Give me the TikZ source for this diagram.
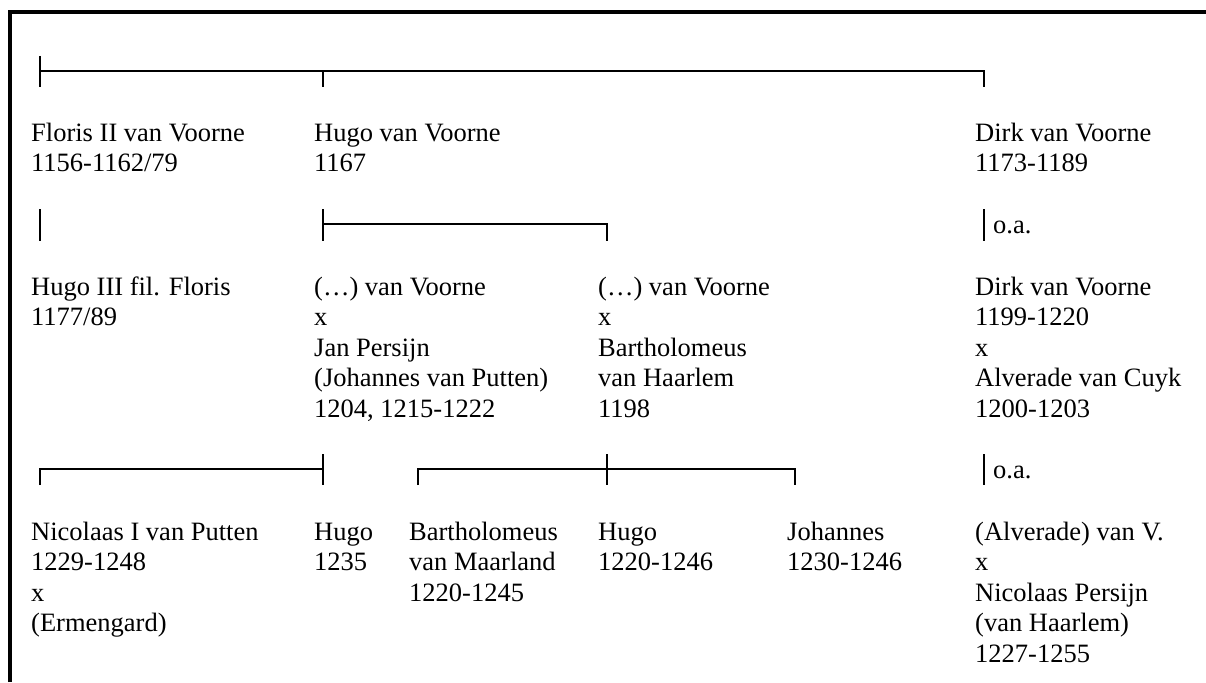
\documentclass[tikz,border=0pt]{standalone}
\usepackage{fontspec}
\setmainfont{Liberation Serif}
\begin{document}
\begin{tikzpicture}[x=1pt,y=-1pt,
  lbl/.style={anchor=north west,inner sep=0pt,align=left,font=\fontsize{26.5}{30.5}\selectfont},
  ln/.style={line width=2.2pt},
  frame/.style={line width=3.5pt}]
\useasboundingbox (0,0) rectangle (1206,682);
% frame
\coordinate (fa) at (10,682);
\coordinate (fb) at (10,12);
\coordinate (fc) at (1206,12);
\draw[frame] (fa) -- (fb) -- (fc);

% ---- generation 1 bracket (line y=71)
\coordinate (a1) at (40,56);  \coordinate (a2) at (40,87);
\coordinate (a0) at (40,71);  \coordinate (a3) at (984,71);
\coordinate (a4) at (323,71); \coordinate (a5) at (323,87);
\coordinate (a6) at (984,87);
\draw[ln] (a1) -- (a2);
\draw[ln] (a0) -- (a3) -- (a6);
\draw[ln] (a4) -- (a5);

% text row 1 (first baseline 141)
\node[lbl] (floris) at (31,119.65) {\strut Floris II van Voorne\\1156-1162/79};
\node[lbl] (hugo)   at (314,119.65) {\strut Hugo van Voorne\\1167};
\node[lbl] (dirk)   at (975,119.65) {\strut Dirk van Voorne\\1173-1189};

% ---- generation 2 connectors (line y=224)
\coordinate (b1) at (40,209);  \coordinate (b2) at (40,241);
\draw[ln] (b1) -- (b2);
\coordinate (c1) at (323,209); \coordinate (c2) at (323,241);
\coordinate (c0) at (323,224); \coordinate (c3) at (607,224);
\coordinate (c4) at (607,241);
\draw[ln] (c1) -- (c2);
\draw[ln] (c0) -- (c3) -- (c4);
\coordinate (d1) at (984,209); \coordinate (d2) at (984,241);
\draw[ln] (d1) -- (d2);
\node[lbl] (oa1) at (993,211.65) {\strut o.a.};

% text row 2 (first baseline 295)
\node[lbl] (hugo3) at (31,273.65) {\strut Hugo III fil. Floris\\1177/89};
\node[lbl] (vv1) at (314,273.65) {\strut (…) van Voorne\\x\\Jan Persijn\\(Johannes van Putten)\\1204, 1215-1222};
\node[lbl] (vv2) at (598,273.65) {\strut (…) van Voorne\\x\\Bartholomeus\\van Haarlem\\1198};
\node[lbl] (dirk2) at (975,273.65) {\strut Dirk van Voorne\\1199-1220\\x\\Alverade van Cuyk\\1200-1203};

% ---- generation 3 connectors (line y=469)
\coordinate (e1) at (40,485);  \coordinate (e0) at (40,469);
\coordinate (e2) at (323,469); \coordinate (e3) at (323,454);
\coordinate (e4) at (323,485);
\draw[ln] (e1) -- (e0) -- (e2);
\draw[ln] (e3) -- (e4);
\coordinate (g1) at (418,485); \coordinate (g0) at (418,469);
\coordinate (g2) at (795,469); \coordinate (g3) at (795,485);
\coordinate (g4) at (607,454); \coordinate (g5) at (607,485);
\draw[ln] (g1) -- (g0) -- (g2) -- (g3);
\draw[ln] (g4) -- (g5);
\coordinate (h1) at (984,454); \coordinate (h2) at (984,485);
\draw[ln] (h1) -- (h2);
\node[lbl] (oa2) at (993,456.65) {\strut o.a.};

% text row 3 (first baseline 540)
\node[lbl] (nic) at (31,518.65) {\strut Nicolaas I van Putten\\1229-1248\\x\\(Ermengard)};
\node[lbl] (hugo4) at (314,518.65) {\strut Hugo\\1235};
\node[lbl] (bart) at (409,518.65) {\strut Bartholomeus\\van Maarland\\1220-1245};
\node[lbl] (hugo5) at (598,518.65) {\strut Hugo\\1220-1246};
\node[lbl] (joh) at (787,518.65) {\strut Johannes\\1230-1246};
\node[lbl] (alv) at (975,518.65) {\strut (Alverade) van V.\\x\\Nicolaas Persijn\\(van Haarlem)\\1227-1255};
\end{tikzpicture}
\end{document}
